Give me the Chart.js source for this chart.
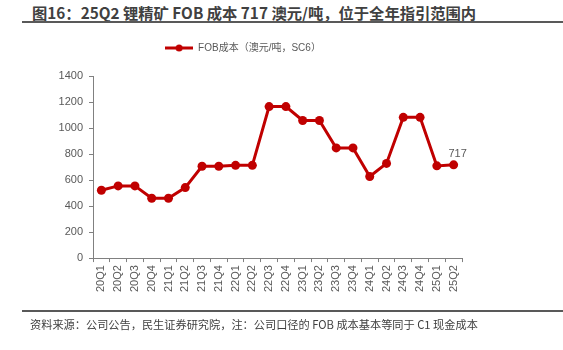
<!DOCTYPE html>
<html>
<head>
<meta charset="utf-8">
<script src="https://cdn.jsdelivr.net/npm/chart.js@4/dist/chart.umd.min.js"></script>
<style>
  html, body { margin: 0; padding: 0; background: #fff; }
  #wrap { position: relative; width: 563px; height: 350px; overflow: hidden;
          font-family: "Liberation Sans", "Noto Sans CJK SC", sans-serif; }
  #title { position: absolute; left: 32px; top: 5px; font-size: 15.3px; line-height: 15px;
           font-weight: bold; color: #404040; white-space: nowrap;
           font-family: "Noto Sans CJK SC", sans-serif; }
  .rule { position: absolute; left: 22px; right: 0; height: 2px; background: #595959; }
  #src { position: absolute; left: 30px; top: 318px; font-size: 11.2px; line-height: 12px;
         color: #404040; white-space: nowrap; font-family: "Noto Sans CJK SC", sans-serif; }
  #chart { position: absolute; left: 0; top: 0; }
</style>
</head>
<body>
<div id="wrap">
  <div id="title">图16：25Q2 锂精矿 FOB 成本 717 澳元/吨，位于全年指引范围内</div>
  <div class="rule" style="top:21px"></div>
  <canvas id="chart" width="563" height="350"></canvas>
  <div class="rule" style="top:310px"></div>
  <div id="src">资料来源：公司公告，民生证券研究院，注：公司口径的 FOB 成本基本等同于 C1 现金成本</div>
</div>
<script>
// Quarterly FOB cost of lithium concentrate (AUD/t, SC6)
const quarters = ['20Q1','20Q2','20Q3','20Q4','21Q1','21Q2','21Q3','21Q4',
                  '22Q1','22Q2','22Q3','22Q4','23Q1','23Q2','23Q3','23Q4',
                  '24Q1','24Q2','24Q3','24Q4','25Q1','25Q2'];
const fobCost = [522, 555, 555, 460, 460, 542, 706, 706,
                 713, 713, 1165, 1165, 1058, 1058, 847, 847,
                 627, 728, 1082, 1082, 709, 717];
const seriesName = 'FOB成本（澳元/吨，SC6）';
const yMin = 0, yMax = 1400, yStep = 200;

const RED = '#C00000';
const AXIS = '#808080';
const TEXT = '#595959';

// legend swatch: short thick line with a dot in the middle
const swatch = document.createElement('canvas');
swatch.width = 28; swatch.height = 10;
(function () {
  const c = swatch.getContext('2d');
  c.strokeStyle = RED; c.lineWidth = 3;
  c.beginPath(); c.moveTo(0, 5); c.lineTo(28, 5); c.stroke();
  c.fillStyle = RED;
  c.beginPath(); c.arc(14, 5, 3.5, 0, Math.PI * 2); c.fill();
})();

// extra gap under the legend
const legendGap = {
  id: 'legendGap',
  beforeInit(chart) {
    const fit = chart.legend.fit;
    chart.legend.fit = function () {
      fit.bind(chart.legend)();
      this.height += 13;
    };
  }
};

// value label on the latest quarter
const lastLabel = {
  id: 'lastLabel',
  afterDatasetsDraw(chart) {
    const meta = chart.getDatasetMeta(0);
    const i = meta.data.length - 1;
    const pt = meta.data[i];
    const ctx = chart.ctx;
    ctx.save();
    ctx.font = '11px "Liberation Sans", sans-serif';
    ctx.fillStyle = TEXT;
    ctx.textAlign = 'center';
    ctx.textBaseline = 'alphabetic';
    ctx.fillText(String(chart.data.datasets[0].data[i]), pt.x + 4, pt.y - 8);
    ctx.restore();
  }
};

new Chart(document.getElementById('chart'), {
  type: 'line',
  data: {
    labels: quarters,
    datasets: [{
      label: seriesName,
      data: fobCost,
      borderColor: RED,
      backgroundColor: RED,
      borderWidth: 3,
      pointRadius: 4.5,
      pointBackgroundColor: RED,
      pointBorderColor: RED,
      pointBorderWidth: 0,
      pointStyle: 'circle',
      tension: 0
    }]
  },
  options: {
    responsive: false,
    animation: false,
    devicePixelRatio: 1,
    layout: { padding: { left: 24, right: 101, top: 37, bottom: 55 } },
    plugins: {
      legend: {
        display: true,
        position: 'top',
        labels: {
          usePointStyle: true,
          pointStyle: swatch,
          pointStyleWidth: 28,
          padding: 6,
          color: TEXT,
          font: { size: 10, family: '"Liberation Sans", "Noto Sans CJK SC", sans-serif' }
        }
      },
      tooltip: { enabled: false }
    },
    scales: {
      x: {
        type: 'category',
        offset: true,
        grid: { offset: true, drawOnChartArea: false, drawTicks: true, tickLength: 4, color: AXIS },
        border: { color: AXIS, width: 1 },
        ticks: {
          color: TEXT,
          minRotation: 90, maxRotation: 90,
          autoSkip: false,
          padding: 3,
          font: { size: 11, family: '"Liberation Sans", sans-serif' }
        }
      },
      y: {
        min: yMin, max: yMax,
        afterFit(scale) { scale.width = 69; },
        grid: { drawOnChartArea: false, drawTicks: true, tickLength: 4, color: AXIS },
        border: { color: AXIS, width: 1 },
        ticks: {
          stepSize: yStep,
          color: TEXT,
          padding: 6,
          callback: (v) => String(v),
          font: { size: 11, family: '"Liberation Sans", sans-serif' }
        }
      }
    }
  },
  plugins: [legendGap, lastLabel]
});
</script>
</body>
</html>
